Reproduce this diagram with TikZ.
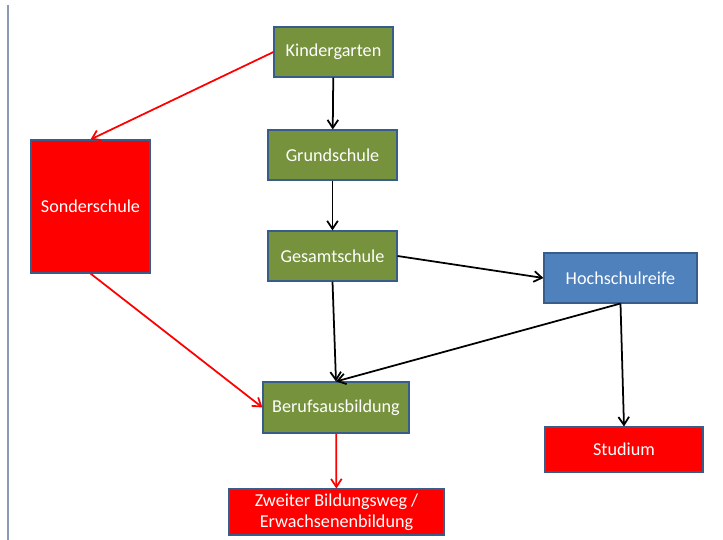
\documentclass[tikz,border=0pt]{standalone}
\usepackage{fontspec}
\setmainfont{Carlito}
\usetikzlibrary{arrows.meta}
\definecolor{schoolgreen}{HTML}{76923C}
\definecolor{schoolblue}{HTML}{4F81BD}
\definecolor{schoolred}{HTML}{FF0000}
\definecolor{boxedge}{HTML}{385D8A}
\definecolor{pageedge}{HTML}{8A9AB5}
\begin{document}
\begin{tikzpicture}[x=0.03cm,y=-0.03cm,>={Straight Barb[length=2.4mm,width=3.2mm]}]
    \useasboundingbox (0,0) rectangle (723,540);
    \draw[pageedge,line width=1pt] (8,5) -- (8,540);

    \begin{scope}[text=white,font=\fontsize{15.5}{18}\selectfont,minimum height=1.5cm,inner sep=2pt]
      \tikzstyle{every node}=[draw=boxedge,line width=0.9pt]
      \tikzstyle{green box}=[fill=schoolgreen]
      \tikzstyle{red box}=[fill=schoolred]
      \node[green box,minimum width=3.57cm] (K)   at (333.5,52)  {Kindergarten};
      \node[green box,minimum width=3.87cm] (G)   at (332.5,155) {Grundschule};
      \node[red box,minimum width=3.57cm,minimum height=3.99cm] (S) at (90.5,206.5) {Sonderschule};
      \node[green box,minimum width=3.87cm] (Ges) at (332.5,256) {Gesamtschule};
      \node[fill=schoolblue,minimum width=4.59cm] (H) at (620.5,278) {Hochschulreife};
      \node[green box,minimum width=4.38cm,minimum height=1.53cm] (B) at (336,407.5) {Berufsausbildung};
      \node[red box,minimum width=4.74cm,minimum height=1.35cm] (St) at (624,449.5) {Studium};
      \node[red box,minimum width=6.45cm,minimum height=1.38cm,align=center] (Z) at (336.5,512)
           {Zweiter Bildungsweg /\\Erwachsenenbildung};
    \end{scope}

    \draw[line width=1.5pt,->] (K)   -- (G);
    \draw[line width=1.5pt,->] (G)   -- (Ges);
    \draw[line width=1.5pt,->] (Ges.east) -- (H.west);
    \draw[line width=1.5pt,->] (Ges.south) -- (B.north);
    \draw[line width=1.5pt,->] (H.south) -- (B.north);
    \draw[line width=1.5pt,->] (H.south) -- (St.north);

    \draw[schoolred,line width=1.5pt,->] (K.west)  -- (S.north);
    \draw[schoolred,line width=1.5pt,->] (S.south) -- (B.west);
    \draw[schoolred,line width=1.5pt,->] (B)       -- (Z);
  \end{tikzpicture}
\end{document}
